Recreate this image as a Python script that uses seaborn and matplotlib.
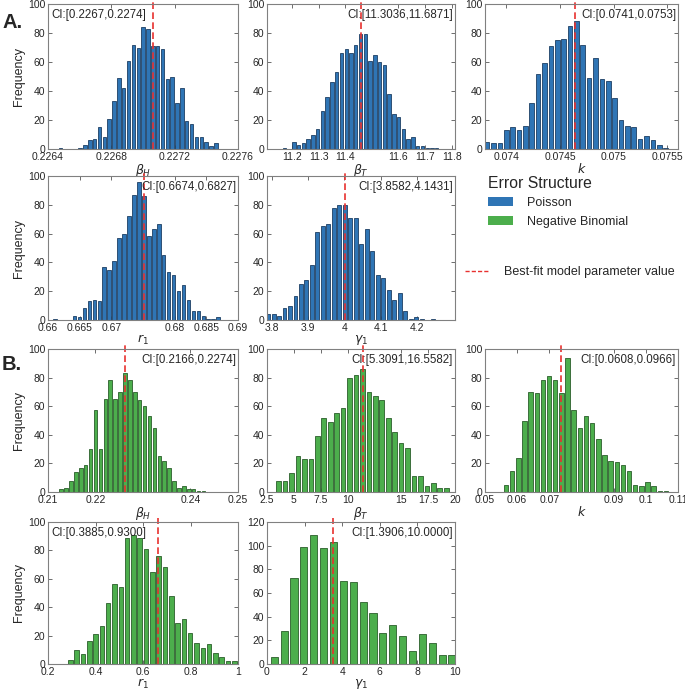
import numpy as np
import pandas as pd
import matplotlib
matplotlib.use("Agg")
import matplotlib.pyplot as plt
from matplotlib.patches import Patch
from matplotlib.lines import Line2D
import seaborn as sns

sns.set_style("ticks")
plt.rcParams["font.family"] = ["Liberation Sans", "DejaVu Sans"]

POIS_COLOR = "#2f75b5"
POIS_EDGE = "#1d3f63"
NB_COLOR = "#4cae4c"
NB_EDGE = "#2a5e2a"
FIT_COLOR = "#e8312f"

# ---- A. Poisson error structure (bootstrap frequencies) ----
bH_p_counts = [1, 0, 0, 0, 1, 3, 6, 7, 15, 8, 21, 33, 49, 42, 61, 72, 70, 84, 83, 71,
               71, 69, 48, 50, 32, 42, 19, 17, 8, 8, 5, 2, 4]
bH_p_range = (0.226465, 0.227475)
bH_p_fit = 0.227063

bT_p_counts = [1, 0, 5, 3, 4, 7, 10, 14, 26, 36, 46, 53, 66, 69, 66, 72, 79, 79, 61, 65,
               60, 58, 38, 24, 22, 14, 7, 8, 2, 2, 1, 1, 1]
bT_p_range = (11.162, 11.753)
bT_p_fit = 11.46

k_p_counts = [5, 4, 4, 13, 15, 13, 16, 32, 52, 59, 71, 75, 76, 85, 88, 72, 49, 63, 48, 47,
              35, 20, 16, 15, 7, 9, 6, 3, 1]
k_p_range = (0.07379, 0.075514)
k_p_fit = 0.074644

r1_p_counts = [1, 0, 0, 0, 3, 2, 8, 13, 14, 13, 37, 35, 41, 57, 60, 72, 87, 96, 86, 58,
               63, 67, 45, 33, 31, 20, 24, 14, 6, 6, 3, 1, 1, 2]
r1_p_range = (0.66067, 0.68726)
r1_p_fit = 0.67516

g1_p_counts = [4, 4, 3, 8, 10, 17, 25, 28, 38, 61, 65, 67, 78, 80, 80, 71, 71, 53, 63, 48,
               31, 29, 21, 14, 19, 6, 1, 2, 1, 0, 1]
g1_p_range = (3.7813, 4.252)
g1_p_fit = 4.001

# ---- B. Negative binomial error structure ----
bH_nb_counts = [4, 0, 0, 2, 3, 8, 14, 17, 19, 30, 57, 30, 65, 78, 65, 70, 83, 78, 70, 64,
                60, 53, 45, 25, 22, 17, 8, 3, 4, 2, 2, 1, 1]
bH_nb_range = (0.20914, 0.24326)
bH_nb_fit = 0.22621

bT_nb_counts = [8, 8, 13, 25, 23, 23, 39, 52, 49, 55, 59, 80, 82, 86, 70, 67, 64, 52, 42, 34,
                31, 11, 11, 4, 6, 3, 3]
bT_nb_range = (3.287, 19.48)
bT_nb_fit = 11.41

k_nb_counts = [5, 15, 24, 50, 70, 69, 78, 81, 78, 69, 94, 57, 45, 53, 48, 37, 26, 22, 21, 19,
               15, 5, 4, 7, 4, 1, 1]
k_nb_range = (0.05557, 0.10723)
k_nb_fit = 0.07363

r1_nb_counts = [3, 10, 7, 16, 21, 27, 43, 56, 54, 89, 91, 89, 81, 65, 76, 68, 48, 29, 32, 22,
                15, 11, 14, 8, 5, 2, 2]
r1_nb_range = (0.2806, 0.998)
r1_nb_fit = 0.6651

g1_nb_counts = [6, 28, 73, 99, 109, 98, 103, 70, 69, 52, 43, 26, 33, 24, 11, 25, 18, 8, 8]
g1_nb_range = (0.121, 10.10)
g1_nb_fit = 3.52

# confidence intervals shown in each panel
ci_text = ["CI:[0.2267,0.2274]", "CI:[11.3036,11.6871]", "CI:[0.0741,0.0753]",
           "CI:[0.6674,0.6827]", "CI:[3.8582,4.1431]",
           "CI:[0.2166,0.2274]", "CI:[5.3091,16.5582]", "CI:[0.0608,0.0966]",
           "CI:[0.3885,0.9300]", "CI:[1.3906,10.0000]"]

xlabels = [r"$\beta_H$", r"$\beta_T$", r"$k$", r"$r_1$", r"$\gamma_1$"] * 2

xticks = [
    ([0.2264, 0.2268, 0.2272, 0.2276], ["0.2264", "0.2268", "0.2272", "0.2276"]),
    ([11.2, 11.3, 11.4, 11.6, 11.7, 11.8], ["11.2", "11.3", "11.4", "11.6", "11.7", "11.8"]),
    ([0.074, 0.0745, 0.075, 0.0755], ["0.074", "0.0745", "0.075", "0.0755"]),
    ([0.66, 0.665, 0.67, 0.68, 0.685, 0.69], ["0.66", "0.665", "0.67", "0.68", "0.685", "0.69"]),
    ([3.8, 3.9, 4.0, 4.1, 4.2], ["3.8", "3.9", "4", "4.1", "4.2"]),
    ([0.21, 0.22, 0.24, 0.25], ["0.21", "0.22", "0.24", "0.25"]),
    ([2.5, 5, 7.5, 10, 15, 17.5, 20], ["2.5", "5", "7.5", "10", "15", "17.5", "20"]),
    ([0.05, 0.06, 0.07, 0.09, 0.1, 0.11], ["0.05", "0.06", "0.07", "0.09", "0.1", "0.11"]),
    ([0.2, 0.4, 0.6, 0.8, 1.0], ["0.2", "0.4", "0.6", "0.8", "1"]),
    ([0, 2, 4, 6, 8, 10], ["0", "2", "4", "6", "8", "10"]),
]

xlims = [(0.2264, 0.2276), (11.106, 11.8125), (0.0738, 0.0756), (0.66, 0.69), (3.786, 4.306),
         (0.21, 0.25), (2.5, 20), (0.05, 0.11), (0.2, 1.0), (0, 10)]

counts = [bH_p_counts, bT_p_counts, k_p_counts, r1_p_counts, g1_p_counts,
          bH_nb_counts, bT_nb_counts, k_nb_counts, r1_nb_counts, g1_nb_counts]
ranges = [bH_p_range, bT_p_range, k_p_range, r1_p_range, g1_p_range,
          bH_nb_range, bT_nb_range, k_nb_range, r1_nb_range, g1_nb_range]
fits = [bH_p_fit, bT_p_fit, k_p_fit, r1_p_fit, g1_p_fit,
        bH_nb_fit, bT_nb_fit, k_nb_fit, r1_nb_fit, g1_nb_fit]
ci_left = [True, False, False, False, False, False, False, False, True, False]

# layout (pixels in a 685x692 figure)
W, H = 685, 692
cols = [(48, 238), (267, 455), (485, 678)]
rows = [(4, 149), (176, 320), (349, 492), (522, 664)]
slots = [(0, 0), (0, 1), (0, 2), (1, 0), (1, 1), (2, 0), (2, 1), (2, 2), (3, 0), (3, 1)]

fig = plt.figure(figsize=(W / 100, H / 100), dpi=100)

for i in range(10):
    r, c = slots[i]
    x0, x1 = cols[c]
    y0, y1 = rows[r]
    ax = fig.add_axes([x0 / W, 1 - y1 / H, (x1 - x0) / W, (y1 - y0) / H])
    pois = i < 5
    edges = np.linspace(ranges[i][0], ranges[i][1], len(counts[i]) + 1)
    df = pd.DataFrame({"value": (edges[:-1] + edges[1:]) / 2, "n": counts[i]})
    sns.histplot(data=df, x="value", weights="n", bins=edges.tolist(), shrink=0.72, ax=ax,
                 color=POIS_COLOR if pois else NB_COLOR,
                 edgecolor=POIS_EDGE if pois else NB_EDGE, linewidth=0.6, alpha=1)
    ax.axvline(fits[i], color=FIT_COLOR, ls=(0, (4, 2)), lw=1.2, ymax=1.03, clip_on=False)

    ax.set_xlim(xlims[i])
    ax.set_xticks(xticks[i][0])
    ax.set_xticklabels(xticks[i][1])
    if i == 9:
        ax.set_ylim(0, 120)
        ax.set_yticks(range(0, 121, 20))
    else:
        ax.set_ylim(0, 100)
        ax.set_yticks(range(0, 101, 20))

    ax.tick_params(direction="in", length=3, width=0.6, labelsize=7.5, pad=2,
                   top=True, right=True, color="#555555")
    for s in ax.spines.values():
        s.set_color("#808080")
        s.set_linewidth(0.8)
    ax.set_xlabel(xlabels[i], fontsize=9, labelpad=0)
    ax.set_ylabel("Frequency" if c == 0 else "", fontsize=9, labelpad=2)

    if ci_left[i]:
        ax.text(0.02, 0.965, ci_text[i], transform=ax.transAxes, ha="left", va="top", fontsize=8.3)
    else:
        ax.text(0.99, 0.965, ci_text[i], transform=ax.transAxes, ha="right", va="top", fontsize=8.3)

fig.text(0.003, 1 - 22 / H, "A.", fontsize=14.5, fontweight="bold", va="center")
fig.text(0.003, 1 - 365 / H, "B.", fontsize=14.5, fontweight="bold", va="center")

leg1 = fig.legend(handles=[Patch(facecolor=POIS_COLOR, edgecolor="none"),
                           Patch(facecolor=NB_COLOR, edgecolor="none")],
                  labels=["Poisson", "Negative Binomial"], title="Error Structure",
                  loc="upper left", bbox_to_anchor=(488 / W, 1 - 176 / H), frameon=False,
                  fontsize=9, title_fontsize=11.3, handlelength=2.0, handleheight=0.75,
                  handletextpad=1.1, labelspacing=0.5, borderpad=0, borderaxespad=0)
leg1._legend_box.align = "left"

fig.legend(handles=[Line2D([0], [0], color=FIT_COLOR, ls=(0, (3, 1.5)), lw=1)],
           labels=["Best-fit model parameter value"], loc="upper left",
           bbox_to_anchor=(465 / W, 1 - 266 / H), frameon=False, fontsize=9,
           handlelength=2.0, handletextpad=1.1, borderpad=0, borderaxespad=0)

fig.savefig("out.png", dpi=100)
